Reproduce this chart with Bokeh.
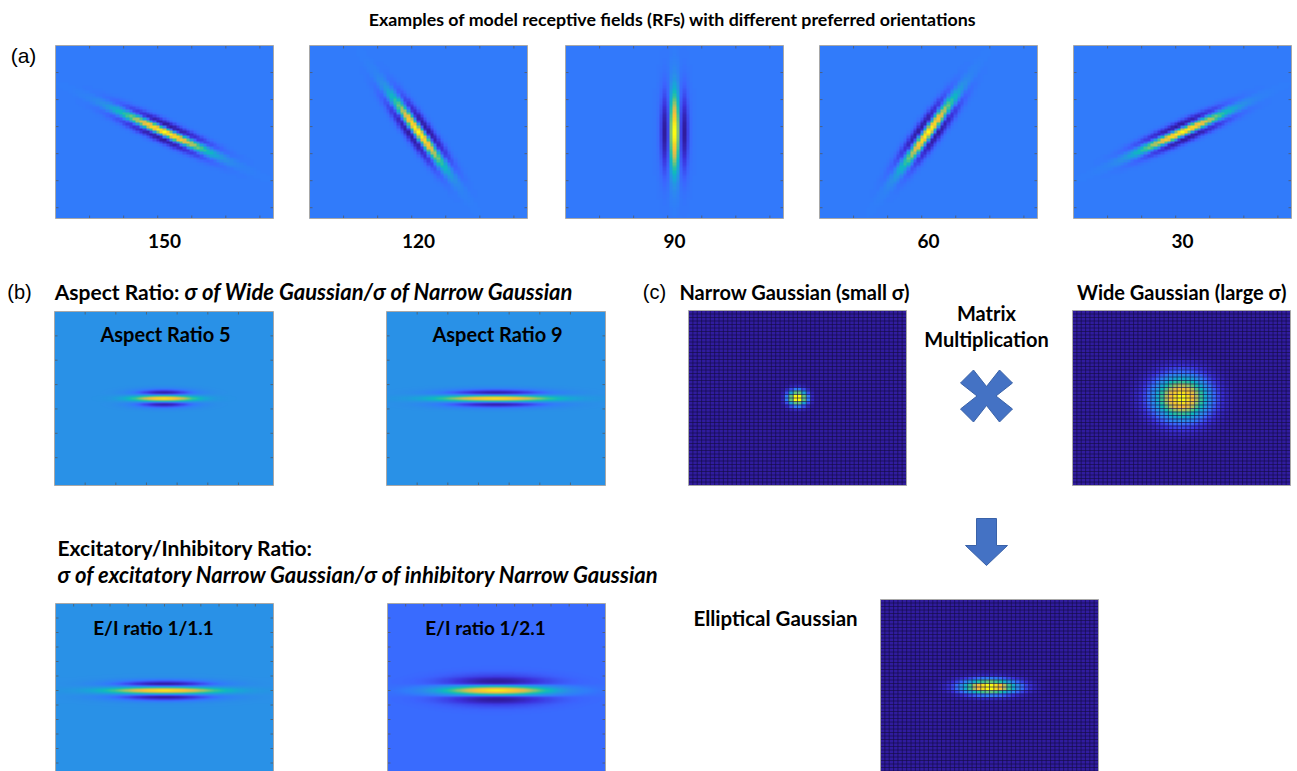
import numpy as np
from bokeh.plotting import figure
from bokeh.models import LinearColorMapper
from bokeh.core.properties import value
from bokeh.embed import file_html
from bokeh.resources import INLINE

W, H = 1297, 771

# ---------------- data ----------------
orientations = [150, 120, 90, 60, 30]                 # preferred orientation, deg
orientation_labels = ["150", "120", "90", "60", "30"]
aspect_ratios = [5, 9]                                 # sigma wide / sigma narrow
aspect_labels = ["Aspect Ratio 5", "Aspect Ratio 9"]
ei_ratios = [1.1, 2.1]                                 # sigma inh / sigma exc
ei_labels = ["E/I ratio 1/1.1", "E/I ratio 1/2.1"]
ei_inh_gain = [0.909, 0.38]                            # inhibitory weight
ei_aspect = 8
e_sigma = 0.042

a_grid, a_sigma, a_aspect, a_ei, a_gain = 65, 0.045, 7, 1.1, 0.88
b_grid, b_sigma, b_ei, b_gain = 201, 0.038, 1.1, 0.909
c_grid = 50
c_sigma_narrow = 1.4      # grid cells
c_sigma_wide = 4.1        # grid cells

# parula-like palette anchors (as rendered in the reference)
pal_pos = [0.00, 0.08, 0.17, 0.22, 0.30, 0.38, 0.46, 0.55, 0.65, 0.75, 0.85, 0.93, 1.00]
pal_rgb = [(48, 28, 158), (60, 50, 220), (60, 100, 255), (48, 125, 250), (42, 143, 232),
           (25, 165, 215), (15, 185, 190), (55, 195, 150), (140, 195, 110), (210, 190, 80),
           (250, 190, 55), (245, 215, 35), (250, 250, 20)]


def make_palette(n=256):
    pos = np.array(pal_pos)
    rgb = np.array(pal_rgb, dtype=float)
    t = np.linspace(0, 1, n)
    cols = []
    for ti in t:
        r = np.interp(ti, pos, rgb[:, 0]); g = np.interp(ti, pos, rgb[:, 1]); b = np.interp(ti, pos, rgb[:, 2])
        cols.append("#%02x%02x%02x" % (int(round(r)), int(round(g)), int(round(b))))
    return cols


PAL = make_palette()


def rf(n, theta_deg, s_narrow, ar, k, gain):
    t = np.linspace(-1, 1, n)
    X, Y = np.meshgrid(t, t)
    th = np.deg2rad(theta_deg)
    u = X * np.cos(th) + Y * np.sin(th)
    v = -X * np.sin(th) + Y * np.cos(th)
    env = np.exp(-u ** 2 / (2 * (ar * s_narrow) ** 2))
    prof = np.exp(-v ** 2 / (2 * s_narrow ** 2)) - gain * np.exp(-v ** 2 / (2 * (k * s_narrow) ** 2))
    return env * prof


def gauss2(n, sx, sy):
    t = np.arange(n) - (n - 1) / 2.0
    X, Y = np.meshgrid(t, t)
    return np.exp(-X ** 2 / (2 * sx ** 2) - Y ** 2 / (2 * sy ** 2))


# ---------------- figure ----------------
p = figure(width=W, height=H, x_range=(0, W), y_range=(0, H), x_axis_type=None, y_axis_type=None,
           toolbar_location=None, output_backend="svg", min_border=0)
p.grid.visible = False
p.outline_line_color = None
p.background_fill_color = "white"
p.border_fill_color = "white"


def Y(y):
    return H - y


def panel(arr, x0, top, w, h, ticks_x=None, ticks_y=None, grid=False, block=1):
    mapper = LinearColorMapper(palette=PAL, low=float(arr.min()), high=float(arr.max()))
    img = np.kron(arr, np.ones((block, block))) if block > 1 else arr
    p.image(image=[img], x=x0, y=Y(top + h), dw=w, dh=h, color_mapper=mapper)
    if grid:
        n = arr.shape[0]
        xs = [[x0 + w * i / n] * 2 for i in range(1, n)]
        ys = [[Y(top), Y(top + h)] for i in range(1, n)]
        xs += [[x0, x0 + w] for j in range(1, n)]
        ys += [[Y(top + h * j / n)] * 2 for j in range(1, n)]
        p.multi_line(xs=xs, ys=ys, line_color="#120c40", line_alpha=0.6, line_width=1)
    tl = 3
    sx0, sy0, sx1, sy1 = [], [], [], []
    if ticks_x:
        for f in ticks_x:
            xx = x0 + w * f
            sx0 += [xx, xx]; sx1 += [xx, xx]
            sy0 += [Y(top + h), Y(top)]; sy1 += [Y(top + h) + tl, Y(top) - tl]
    if ticks_y:
        for f in ticks_y:
            yy = Y(top + h * f)
            sx0 += [x0, x0 + w]; sx1 += [x0 + tl, x0 + w - tl]
            sy0 += [yy, yy]; sy1 += [yy, yy]
    if sx0:
        p.segment(x0=sx0, y0=sy0, x1=sx1, y1=sy1, line_color="#555555", line_width=1, line_alpha=0.7)
    p.rect(x=x0 + w / 2, y=Y(top + h / 2), width=w, height=h, fill_color=None,
           line_color="#a8a8a8", line_width=1)


def label(x, y, txt, size, align="center", style="bold", font="Lato"):
    p.text(x=[x], y=[Y(y)], text=[txt], text_font=value(font), text_font_style=style,
           text_font_size=size, text_align=align, text_baseline="middle", text_color="black")


# ---- row (a)
label(672, 18, "Examples of model receptive fields (RFs) with different preferred orientations", "17.8px")
label(23, 55, "(a)", "21px", style="normal", font="Liberation Sans")
a_x0 = [55, 309, 565, 819, 1073]
tick_a = [10 * i / (a_grid - 1) for i in range(1, 7)]
for x0, th, lab in zip(a_x0, orientations, orientation_labels):
    arr = rf(a_grid, th, a_sigma, a_aspect, a_ei, a_gain)
    panel(arr, x0, 45, 218, 173, ticks_x=tick_a, ticks_y=tick_a, block=4)
    label(x0 + 109, 240, lab, "19px")

# ---- (b)
label(19, 291, "(b)", "20px", style="normal", font="Liberation Sans")
label(179, 291, "Aspect Ratio:", "21px", align="right")
label(184, 291, "\u03c3 of Wide Gaussian/\u03c3 of Narrow Gaussian", "22px", align="left", style="bold italic")
b_x0 = [54, 386]
tick_b = [0.14 * i for i in range(1, 7)]
for x0, ar, lab in zip(b_x0, aspect_ratios, aspect_labels):
    arr = rf(b_grid, 0, b_sigma, ar, b_ei, b_gain)
    panel(arr, x0, 311, 219, 174, ticks_x=tick_b, ticks_y=tick_b)
    label(x0 + 111, 333, lab, "20px")

# ---- E/I
label(57, 547, "Excitatory/Inhibitory Ratio:", "21px", align="left")
label(57, 574, "\u03c3 of excitatory Narrow Gaussian/\u03c3 of inhibitory Narrow Gaussian", "22px",
      align="left", style="bold italic")
e_x0 = [55, 387]
tick_e = [i / 12 for i in range(1, 12)]
for x0, k, g, lab in zip(e_x0, ei_ratios, ei_inh_gain, ei_labels):
    arr = rf(b_grid, 0, e_sigma, ei_aspect, k, g)
    panel(arr, x0, 603, 218, 174, ticks_x=tick_e, ticks_y=tick_e)
    label(x0 + 98, 627, lab, "19px")

# ---- (c)
label(654, 291, "(c)", "20px", style="normal", font="Liberation Sans")
label(794, 291, "Narrow Gaussian (small \u03c3)", "20px")
label(1181, 291, "Wide Gaussian (large \u03c3)", "20px")
label(986, 312, "Matrix", "20px")
label(986, 338, "Multiplication", "20px")
label(775, 617, "Elliptical Gaussian", "20.5px")

narrow = gauss2(c_grid, c_sigma_narrow, c_sigma_narrow)
wide = gauss2(c_grid, c_sigma_wide, c_sigma_wide)
ellip = gauss2(c_grid, c_sigma_wide, c_sigma_narrow)
panel(narrow, 688, 310, 218, 175, grid=True, block=4)
panel(wide, 1072, 310, 218, 175, grid=True, block=4)
panel(ellip, 880, 599, 218, 175, grid=True, block=4)

# multiplication cross
cx, cy, hh, a, b = 986, 395.5, 26, 13, 9.5
cross = [(cx - hh, cy - hh + a), (cx - hh + a, cy - hh), (cx, cy - b), (cx + hh - a, cy - hh),
         (cx + hh, cy - hh + a), (cx + b, cy), (cx + hh, cy + hh - a), (cx + hh - a, cy + hh),
         (cx, cy + b), (cx - hh + a, cy + hh), (cx - hh, cy + hh - a), (cx - b, cy)]
p.patch(x=[q[0] for q in cross], y=[Y(q[1]) for q in cross], fill_color="#4472C4",
        line_color="#3a62a8", line_width=1)
# down arrow
arrow = [(976, 518), (996, 518), (996, 545), (1007, 545), (986, 565), (965, 545), (976, 545)]
p.patch(x=[q[0] for q in arrow], y=[Y(q[1]) for q in arrow], fill_color="#4472C4",
        line_color="#3a62a8", line_width=1)

open("out.html", "w").write(file_html(p, INLINE))
